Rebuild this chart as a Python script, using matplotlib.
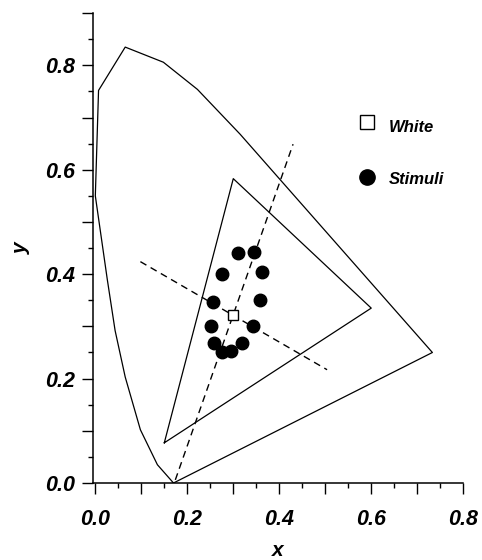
import matplotlib
matplotlib.use("Agg")
import matplotlib.pyplot as plt
from matplotlib.ticker import MultipleLocator, FuncFormatter

plt.rcParams['font.family'] = ['Liberation Sans', 'DejaVu Sans']

# spectral locus, closed by the purple line
locus_x = [0.17, 0.135, 0.098, 0.065, 0.043, 0.026, 0.0, 0.007, 0.065, 0.148, 0.222, 0.315, 0.733, 0.17]
locus_y = [0.0, 0.035, 0.102, 0.203, 0.292, 0.39, 0.55, 0.752, 0.835, 0.806, 0.754, 0.668, 0.25, 0.0]

# monitor gamut
gamut_x = [0.15, 0.30, 0.60, 0.15]
gamut_y = [0.077, 0.583, 0.335, 0.077]

# dashed axes through the white point
dash1_x = [0.174, 0.43]
dash1_y = [0.006, 0.649]
dash2_x = [0.098, 0.504]
dash2_y = [0.424, 0.217]

white_x = [0.30]
white_y = [0.322]

stim_x = [0.31, 0.346, 0.275, 0.363, 0.255, 0.359, 0.251, 0.343, 0.259, 0.319, 0.275, 0.296]
stim_y = [0.44, 0.442, 0.40, 0.404, 0.347, 0.35, 0.30, 0.301, 0.268, 0.269, 0.251, 0.253]

fig = plt.figure(figsize=(4.82, 5.6), dpi=100)
ax = fig.add_axes([0.193, 0.1375, 0.768, 0.839])

ax.plot(locus_x, locus_y, color='black', lw=0.9)
ax.plot(gamut_x, gamut_y, color='black', lw=0.9)
ax.plot(dash1_x, dash1_y, color='black', lw=1.0, dashes=(5, 3.5))
ax.plot(dash2_x, dash2_y, color='black', lw=1.0, dashes=(5, 3.5))
ax.plot(stim_x, stim_y, 'o', color='black', ms=9, ls='none')
ax.plot(white_x, white_y, 's', mfc='white', mec='black', mew=1.0, ms=7.5, ls='none')

# legend drawn as in the original (marker + italic text)
ax.plot([0.591], [0.691], 's', mfc='white', mec='black', mew=1.0, ms=9.5, clip_on=False)
ax.text(0.639, 0.681, 'White', fontsize=12, style='italic', fontweight='bold', va='center')
ax.plot([0.591], [0.587], 'o', color='black', ms=11, clip_on=False)
ax.text(0.639, 0.581, 'Stimuli', fontsize=12, style='italic', fontweight='bold', va='center')

ax.set_xlim(-0.005, 0.8)
ax.set_ylim(0.0, 0.9)

for s in ['top', 'right']:
    ax.spines[s].set_visible(False)
for s in ['left', 'bottom']:
    ax.spines[s].set_linewidth(1.1)

lab = FuncFormatter(lambda v, p: f'{v:.1f}' if round(v * 10) % 2 == 0 else '')
ax.xaxis.set_major_locator(MultipleLocator(0.1))
ax.yaxis.set_major_locator(MultipleLocator(0.1))
ax.xaxis.set_minor_locator(MultipleLocator(0.05))
ax.yaxis.set_minor_locator(MultipleLocator(0.05))
ax.xaxis.set_major_formatter(lab)
ax.yaxis.set_major_formatter(lab)
ax.tick_params(which='major', length=8, width=1.0, labelsize=15.5)
ax.tick_params(axis='y', which='major', pad=5)
ax.tick_params(axis='x', which='major', pad=11)
ax.tick_params(which='minor', length=3.5, width=1.0)
for t in ax.get_xticklabels() + ax.get_yticklabels():
    t.set_fontstyle('italic')
    t.set_fontweight('bold')

ax.set_xlabel('x', fontsize=15, style='italic', fontweight='bold', labelpad=8)
ax.set_ylabel('y', fontsize=15, style='italic', fontweight='bold', labelpad=10)

fig.savefig('out.png', dpi=100)
